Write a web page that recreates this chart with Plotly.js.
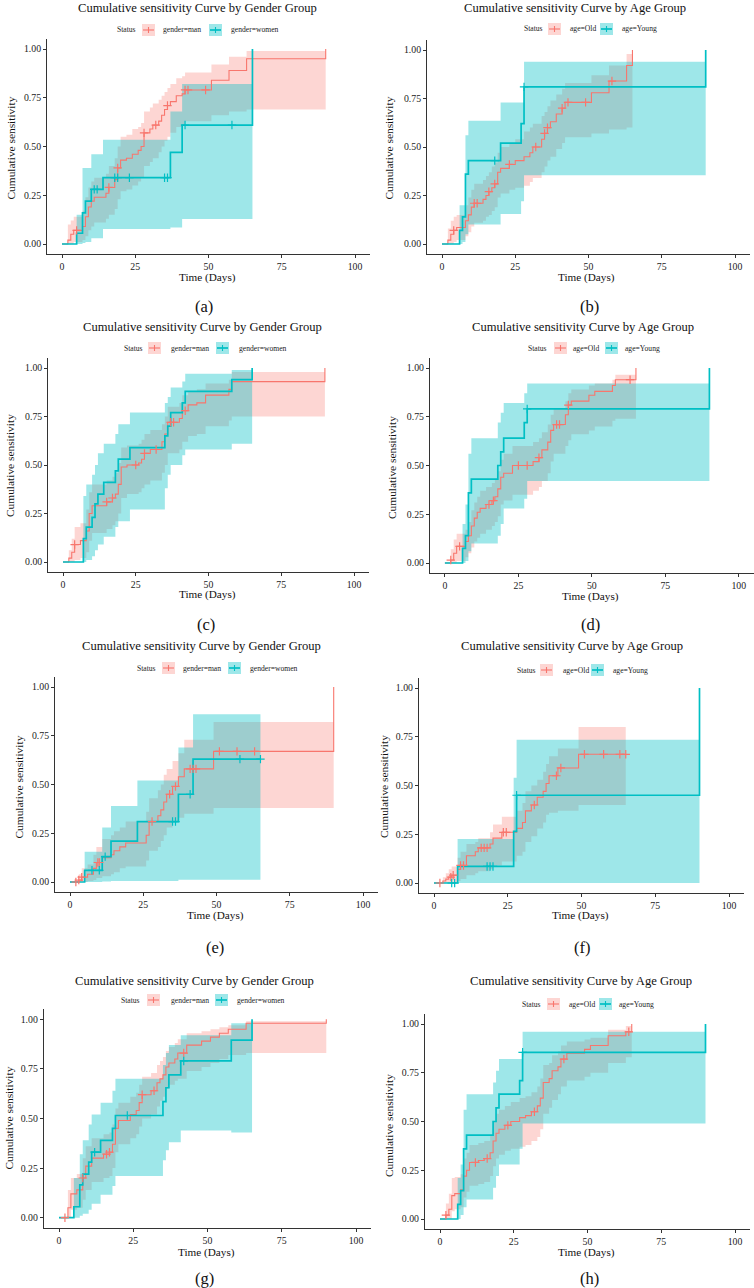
<!DOCTYPE html>
<html><head><meta charset="utf-8">
<script src="https://cdn.plot.ly/plotly-3.0.1.min.js"></script>
<style>html,body{margin:0;padding:0;background:#fff}#chart{width:754px;height:1288px}</style>
</head><body><div id="chart"></div>
<script>
// ---------------- DATA ----------------
// Panel (a) gender
const aManT  = [0,2,3,4,7,8,9,10,11,15,16,18,19,20,22,24,26,27,28,30,31,33,34,35,36,37,39,41,42,51,57,63,90];
const aManV  = [0,.02,.05,.07,.09,.14,.19,.22,.24,.26,.29,.33,.39,.43,.44,.46,.48,.50,.57,.59,.61,.63,.66,.69,.71,.73,.76,.77,.79,.84,.89,.95,1.0];
const aManHi = [0,.10,.12,.14,.17,.24,.29,.32,.34,.36,.40,.44,.50,.55,.56,.59,.60,.62,.68,.70,.72,.74,.76,.78,.80,.82,.85,.86,.88,.92,.96,.99,.99];
const aManLo = [0,0,0,.01,.02,.04,.07,.09,.11,.13,.15,.18,.23,.27,.28,.30,.32,.34,.40,.42,.44,.47,.50,.53,.55,.57,.60,.61,.63,.66,.68,.69,.69];
const aManCens = [5,16,19,28,32,36,42,43,49];
const aWomT  = [0,5,7,8,10,14,37,41,65];
const aWomV  = [0,.055,.16,.22,.28,.34,.47,.61,1.0];
const aWomHi = [0,.15,.39,.39,.46,.535,.68,.82,.82];
const aWomLo = [0,0,.005,.01,.03,.077,.085,.128,.128];
const aWomCens = [11,12,18,19,23,35,36,42,58];
// Panel (b) age
const bOldT  = [0,2,3,4,5,8,9,10,11,14,15,16,17,18,19,20,23,25,28,30,31,34,35,36,37,39,41,42,51,57,63,65];
const bOldV  = [0,.02,.05,.07,.085,.12,.15,.19,.21,.23,.25,.27,.29,.31,.37,.39,.41,.43,.45,.47,.50,.54,.57,.60,.63,.67,.70,.73,.78,.84,.92,1.0];
const bOldHi = [0,.08,.12,.14,.15,.20,.24,.28,.31,.33,.35,.37,.40,.42,.47,.50,.52,.54,.58,.60,.62,.66,.68,.71,.74,.77,.80,.83,.87,.92,.98,.98];
const bOldLo = [0,0,0,.01,.02,.04,.06,.09,.11,.12,.14,.15,.17,.19,.24,.26,.28,.29,.30,.32,.34,.37,.40,.43,.45,.49,.52,.55,.57,.59,.60,.60];
const bOldCens = [4,11,12,16,18,23,32,35,36,41,43,49,58];
const bYouT  = [0,6,7,8,9,20,27,28,90];
const bYouV  = [0,.07,.14,.36,.43,.52,.62,.81,1.0];
const bYouHi = [0,.20,.20,.56,.635,.73,.73,.94,.94];
const bYouLo = [0,0,.01,.05,.10,.155,.22,.355,.355];
const bYouCens = [18,28];
// Panel (c) gender
const cManT  = [0,2,3,4,6,8,9,10,15,17,18,19,20,22,26,27,28,30,34,35,36,40,41,43,46,49,57,58,90];
const cManV  = [0,.02,.05,.09,.11,.16,.25,.29,.31,.33,.35,.40,.49,.50,.51,.53,.56,.58,.62,.66,.72,.74,.78,.81,.82,.86,.89,.93,1.0];
const cManHi = [0,.06,.12,.18,.20,.27,.36,.40,.42,.44,.46,.51,.59,.60,.61,.63,.66,.68,.71,.75,.80,.82,.86,.88,.89,.92,.94,.98,.98];
const cManLo = [0,0,0,.01,.02,.05,.11,.15,.17,.19,.21,.25,.33,.35,.36,.38,.40,.42,.46,.50,.56,.58,.62,.65,.66,.70,.73,.75,.75];
const cManCens = [4,15,17,25,28,32,37,38,42];
const cWomT  = [0,7,8,10,11,12,14,18,19,23,35,36,37,41,42,58,65];
const cWomV  = [0,.12,.18,.23,.30,.35,.41,.47,.53,.59,.65,.70,.77,.82,.88,.94,1.0];
const cWomHi = [0,.34,.40,.45,.50,.56,.61,.66,.71,.77,.82,.85,.90,.93,.97,.99,.99];
const cWomLo = [0,0,.01,.03,.06,.09,.13,.18,.21,.27,.38,.45,.50,.55,.58,.61,.61];
const cWomCens = [];
// Panel (d) age
const dOldT  = [0,2,3,4,7,8,9,10,11,12,14,16,17,18,19,20,23,30,32,33,35,36,37,41,42,43,49,51,57,58,65];
const dOldV  = [0,.015,.05,.085,.11,.14,.19,.23,.26,.28,.30,.32,.34,.38,.44,.46,.50,.52,.54,.58,.62,.68,.71,.76,.81,.83,.86,.88,.91,.94,1.0];
const dOldHi = [0,.07,.12,.15,.17,.21,.27,.31,.34,.37,.39,.41,.43,.47,.53,.56,.60,.62,.64,.67,.71,.76,.79,.83,.87,.89,.91,.92,.94,.965,.965];
const dOldLo = [0,0,0,.01,.03,.05,.08,.11,.13,.15,.17,.19,.21,.24,.30,.32,.35,.37,.39,.42,.46,.52,.56,.60,.63,.66,.68,.70,.73,.74,.74];
const dOldCens = [2,5,15,16.5,25,28,32,38,39,42,63];
const dYouT  = [0,6,7,8,9,18,19,20,27,28,90];
const dYouV  = [0,.075,.14,.36,.43,.50,.57,.64,.72,.79,1.0];
const dYouHi = [0,.20,.30,.56,.64,.72,.77,.82,.87,.92,.92];
const dYouLo = [0,0,.01,.06,.10,.14,.20,.28,.33,.42,.42];
const dYouCens = [28];
// Panel (e) gender
const eManT  = [0,3,4,6,8,9,11,14,15,17,19,26,27,30,31,32,33,35,37,39,49,90];
const eManV  = [0,.01,.025,.04,.07,.10,.125,.14,.16,.18,.20,.24,.31,.34,.37,.41,.45,.49,.54,.58,.67,1.0];
const eManHi = [0,.04,.07,.09,.14,.18,.22,.24,.26,.28,.31,.36,.43,.47,.50,.55,.58,.62,.66,.73,.82,.82];
const eManLo = [0,0,0,.005,.01,.02,.03,.04,.05,.07,.08,.11,.16,.18,.21,.24,.28,.31,.33,.35,.38,.38];
const eManCens = [2,3,4,9.5,10,28,34,36,41,42,43,51,57,63];
const eWomT  = [0,5,11,14,23,37,42,65];
const eWomV  = [0,.06,.13,.21,.31,.45,.63,.63];
const eWomHi = [0,.155,.28,.39,.52,.69,.86,.86];
const eWomLo = [0,0,.003,.005,.005,.012,.012,.012];
const eWomCens = [7.5,10,12,35,36,41,58,65];
// Panel (f) age
const fOldT  = [0,3,4,5,6,8,9,11,14,15,19,20,23,28,30,31,33,35,37,38,39,42,49,65];
const fOldV  = [0,.01,.02,.03,.04,.07,.09,.14,.16,.18,.20,.23,.26,.28,.31,.37,.40,.44,.47,.51,.55,.59,.66,.66];
const fOldHi = [0,.03,.05,.07,.085,.13,.16,.20,.21,.23,.26,.30,.34,.37,.41,.47,.50,.53,.57,.61,.65,.69,.80,.80];
const fOldLo = [0,0,0,0,0,.01,.02,.04,.05,.06,.07,.09,.11,.14,.16,.21,.24,.28,.31,.35,.36,.37,.40,.40];
const fOldCens = [2,5.7,6.5,9,10,16,17,18,23.5,24.5,34,41.5,43,51,57.5,63,65];
const fYouT  = [0,8,27,28,90];
const fYouV  = [0,.085,.265,.45,1.0];
const fYouHi = [0,.225,.54,.735,.735];
const fYouLo = [0,0,0,0,0];
const fYouCens = [6,7,18,19,20,28];
// Panel (g) gender
const gManT  = [0,3,4,6,8,9,11,15,17,18,19,20,24,26,27,28,31,33,34,35,36,37,39,40,43,48,51,54,57,63,90];
const gManV  = [0,.05,.12,.14,.20,.26,.30,.32,.33,.37,.45,.49,.52,.54,.58,.62,.64,.68,.70,.72,.76,.78,.80,.83,.87,.89,.91,.93,.95,.98,1.0];
const gManHi = [0,.14,.20,.22,.30,.36,.40,.42,.43,.47,.55,.58,.61,.63,.67,.71,.73,.77,.79,.81,.84,.86,.88,.90,.93,.94,.95,.96,.97,.99,.99];
const gManLo = [0,0,.04,.05,.09,.14,.18,.20,.21,.25,.33,.37,.40,.42,.46,.50,.52,.56,.59,.61,.65,.67,.69,.70,.74,.76,.78,.80,.82,.83,.83];
const gManCens = [2,8,16,17,28,32,42];
const gWomT  = [0,5,7,8,10,11,14,18,19,35,36,37,41,58,65];
const gWomV  = [0,.055,.165,.22,.28,.33,.39,.45,.515,.585,.655,.72,.79,.895,1.0];
const gWomHi = [0,.20,.32,.39,.47,.52,.58,.64,.70,.77,.83,.87,.92,.98,.98];
const gWomLo = [0,0,.01,.02,.04,.07,.115,.16,.21,.29,.34,.38,.44,.43,.43];
const gWomCens = [12,23,42];
// Panel (h) age
const hOldT  = [0,2,3,4,5,7,8,9,10,13,15,17,18,19,20,22,24,27,29,31,33,34,35,37,38,40,41,43,49,51,57,63,65];
const hOldV  = [0,.02,.05,.12,.13,.15,.22,.25,.29,.30,.31,.34,.40,.44,.46,.48,.50,.52,.53,.55,.58,.62,.70,.72,.76,.78,.82,.85,.87,.89,.94,.96,1.0];
const hOldHi = [0,.08,.13,.21,.215,.23,.31,.34,.38,.39,.40,.43,.50,.54,.56,.58,.60,.62,.63,.65,.68,.72,.79,.80,.84,.86,.89,.91,.92,.93,.97,.99,.99];
const hOldLo = [0,0,0,.04,.05,.06,.11,.14,.17,.18,.19,.22,.27,.31,.33,.35,.36,.37,.38,.40,.42,.46,.54,.57,.61,.64,.68,.71,.73,.75,.80,.83,.83];
const hOldCens = [2,12,16,23,32,42,64];
const hYouT  = [0,6,7,8,9,18,19,20,27,28,90];
const hYouV  = [0,.075,.145,.36,.43,.50,.57,.64,.71,.855,1.0];
const hYouHi = [0,.21,.28,.56,.64,.70,.76,.82,.82,.96,.96];
const hYouLo = [0,0,.02,.06,.10,.16,.22,.28,.36,.49,.49];
const hYouCens = [28];

const xTicks = [0,25,50,75,100];
const yTicks = [0,0.25,0.5,0.75,1];
const yTickText = ['0.00','0.25','0.50','0.75','1.00'];
const genderLabels = ['gender=man','gender=women'];
const ageLabels = ['age=Old','age=Young'];
const genderTitle = 'Cumulative sensitivity Curve by Gender Group';
const ageTitle = 'Cumulative sensitivity Curve by Age Group';
const captions = ['(a)','(b)','(c)','(d)','(e)','(f)','(g)','(h)'];

// ---------------- LAYOUT / STYLE ----------------
const W = 754, H = 1288;
const FONT = '"Liberation Serif", "Times New Roman", serif';
const RED = '#F8766D', CYAN = '#00BFC4';
const RED_FILL = 'rgba(248,118,109,0.30)', CYAN_FILL = 'rgba(0,191,196,0.38)';
const AX = '#333333';

const S = (T,V,Hi,Lo,C) => ({T,V,Hi,Lo,C});
const panels = [
 {x:[47.35,369.65], y:[39.25,253.75], lab:genderLabels, title:genderTitle, tx:197, ty:8, leg:[115,142,161,209,229], ly:30, ytx:10.5, yty:148, xtx:207, xty:277, cx:204, cy:307,
  A:S(aManT,aManV,aManHi,aManLo,aManCens), B:S(aWomT,aWomV,aWomHi,aWomLo,aWomCens)},
 {x:[427.35,749.65], y:[40.3,253.7], lab:ageLabels, title:ageTitle, tx:575, ty:8, leg:[522,548,568,600,620], ly:29, ytx:388.5, yty:148, xtx:586.5, xty:277, cx:589, cy:307,
  A:S(bOldT,bOldV,bOldHi,bOldLo,bOldCens), B:S(bYouT,bYouV,bYouHi,bYouLo,bYouCens)},
 {x:[48.45,368.55], y:[358.3,571.7], lab:genderLabels, title:genderTitle, tx:202, ty:327, leg:[122,148,169,216,237], ly:348, ytx:10, yty:466, xtx:207.5, xty:595, cx:206, cy:624,
  A:S(cManT,cManV,cManHi,cManLo,cManCens), B:S(cWomT,cWomV,cWomHi,cWomLo,cWomCens)},
 {x:[430.2,753.5], y:[358.25,572.75], lab:ageLabels, title:ageTitle, tx:583, ty:327, leg:[526,554,571,605,623], ly:348, ytx:392, yty:468, xtx:590.5, xty:596.5, cx:590, cy:624,
  A:S(dOldT,dOldV,dOldHi,dOldLo,dOldCens), B:S(dYouT,dYouV,dYouHi,dYouLo,dYouCens)},
 {x:[55.35,377.65], y:[677.25,891.75], lab:genderLabels, title:genderTitle, tx:201, ty:646, leg:[135,162,181,228,248], ly:668, ytx:18, yty:787.5, xtx:215, xty:916, cx:215, cy:947,
  A:S(eManT,eManV,eManHi,eManLo,eManCens), B:S(eWomT,eWomV,eWomHi,eWomLo,eWomCens)},
 {x:[419.25,743.75], y:[678.25,892.75], lab:ageLabels, title:ageTitle, tx:572, ty:646, leg:[515,540,561,591,611], ly:670, ytx:384, yty:787, xtx:580, xty:916, cx:582, cy:947,
  A:S(fOldT,fOldV,fOldHi,fOldLo,fOldCens), B:S(fYouT,fYouV,fYouHi,fYouLo,fYouCens)},
 {x:[44.15,370.85], y:[1009.4,1227.6], lab:genderLabels, title:genderTitle, tx:194, ty:981, leg:[119,147,169,215,235], ly:1000, ytx:8, yty:1118.5, xtx:206, xty:1252, cx:205, cy:1278,
  A:S(gManT,gManV,gManHi,gManLo,gManCens), B:S(gWomT,gWomV,gWomHi,gWomLo,gWomCens)},
 {x:[425.25,749.75], y:[1014.25,1228.75], lab:ageLabels, title:ageTitle, tx:581, ty:981, leg:[520,547,567,599,617], ly:1004, ytx:389, yty:1125, xtx:586.5, xty:1252, cx:589, cy:1278,
  A:S(hOldT,hOldV,hOldHi,hOldLo,hOldCens), B:S(hYouT,hYouV,hYouHi,hYouLo,hYouCens)}
];

const px = v => v / W;
const py = v => 1 - v / H;
function stepAt(T, V, t) { let r = V[0]; for (let i = 0; i < T.length; i++) { if (T[i] <= t) r = V[i]; } return r; }

const data = [];
const layout = {
  width: W, height: H, margin: {l:0, r:0, t:0, b:0},
  paper_bgcolor: '#fff', plot_bgcolor: 'rgba(0,0,0,0)',
  showlegend: false, font: {family: FONT, color: '#222'},
  annotations: [], shapes: []
};

panels.forEach((p, i) => {
  const n = i + 1;
  const xa = 'x' + (n === 1 ? '' : n), ya = 'y' + (n === 1 ? '' : n);
  const xk = 'xaxis' + (n === 1 ? '' : n), yk = 'yaxis' + (n === 1 ? '' : n);
  layout[xk] = {
    domain: [px(p.x[0]), px(p.x[1])], range: [-5, 105], anchor: ya,
    tickvals: xTicks, ticktext: xTicks.map(String), ticks: 'outside', ticklen: 3, tickwidth: 1, tickcolor: AX,
    showline: true, linecolor: AX, linewidth: 1.3, showgrid: false, zeroline: false,
    tickfont: {family: FONT, size: 9.8, color: '#222'}, fixedrange: true
  };
  layout[yk] = {
    domain: [py(p.y[1]), py(p.y[0])], range: [-0.05, 1.05], anchor: xa,
    tickvals: yTicks, ticktext: yTickText, ticks: 'outside', ticklen: 3, tickwidth: 1, tickcolor: AX,
    showline: true, linecolor: AX, linewidth: 1.3, showgrid: false, zeroline: false,
    tickfont: {family: FONT, size: 9.8, color: '#222'}, fixedrange: true
  };
  const series = [[p.A, RED, RED_FILL, 1.1], [p.B, CYAN, CYAN_FILL, 1.7]];
  // confidence bands
  series.forEach(([s, col, fill]) => {
    data.push({x: s.T, y: s.Hi, xaxis: xa, yaxis: ya, mode: 'lines', line: {width: 0, shape: 'hv'}, hoverinfo: 'skip', showlegend: false});
    data.push({x: s.T, y: s.Lo, xaxis: xa, yaxis: ya, mode: 'lines', line: {width: 0, shape: 'hv'}, fill: 'tonexty', fillcolor: fill, hoverinfo: 'skip', showlegend: false});
  });
  // step lines
  series.forEach(([s, col, fill, w]) => {
    data.push({x: s.T, y: s.V, xaxis: xa, yaxis: ya, mode: 'lines', line: {color: col, width: w, shape: 'hv'}, showlegend: false});
  });
  // censor marks
  series.forEach(([s, col]) => {
    if (!s.C.length) return;
    data.push({x: s.C, y: s.C.map(t => stepAt(s.T, s.V, t)), xaxis: xa, yaxis: ya, mode: 'markers',
      marker: {symbol: 'cross-thin-open', size: 6, color: col, line: {color: col, width: 1.2}}, showlegend: false});
  });

  // texts
  const A = layout.annotations;
  A.push({text: p.title, x: px(p.tx), y: py(p.ty), xref: 'paper', yref: 'paper', xanchor: 'center', yanchor: 'middle', showarrow: false, font: {family: FONT, size: 12.6, color: '#111'}});
  A.push({text: 'Cumulative sensitivity', x: px(p.ytx), y: py(p.yty), xref: 'paper', yref: 'paper', xanchor: 'center', yanchor: 'middle', textangle: -90, showarrow: false, font: {family: FONT, size: 11.4, color: '#111'}});
  A.push({text: 'Time (Days)', x: px(p.xtx), y: py(p.xty), xref: 'paper', yref: 'paper', xanchor: 'center', yanchor: 'middle', showarrow: false, font: {family: FONT, size: 11.2, color: '#111'}});
  A.push({text: captions[i], x: px(p.cx), y: py(p.cy), xref: 'paper', yref: 'paper', xanchor: 'center', yanchor: 'middle', showarrow: false, font: {family: FONT, size: 16.5, color: '#111'}});
  // legend
  const L = p.leg;
  const lf = {family: FONT, size: 7.6, color: '#222'};
  A.push({text: 'Status', x: px(L[0]), y: py(p.ly), xref: 'paper', yref: 'paper', xanchor: 'left', yanchor: 'middle', showarrow: false, font: lf});
  A.push({text: p.lab[0], x: px(L[2]), y: py(p.ly), xref: 'paper', yref: 'paper', xanchor: 'left', yanchor: 'middle', showarrow: false, font: lf});
  A.push({text: p.lab[1], x: px(L[4]), y: py(p.ly), xref: 'paper', yref: 'paper', xanchor: 'left', yanchor: 'middle', showarrow: false, font: lf});
  [[L[1], RED, RED_FILL, 1.1], [L[3], CYAN, CYAN_FILL, 1.7]].forEach(([kx, col, fill, w]) => {
    const Sh = layout.shapes;
    Sh.push({type: 'rect', xref: 'paper', yref: 'paper', x0: px(kx), x1: px(kx + 13), y0: py(p.ly + 6), y1: py(p.ly - 6), fillcolor: fill, line: {width: 0}});
    Sh.push({type: 'line', xref: 'paper', yref: 'paper', x0: px(kx + 1), x1: px(kx + 12), y0: py(p.ly), y1: py(p.ly), line: {color: col, width: w}});
    Sh.push({type: 'line', xref: 'paper', yref: 'paper', x0: px(kx + 6.5), x1: px(kx + 6.5), y0: py(p.ly - 3), y1: py(p.ly + 3), line: {color: col, width: 1.1}});
  });
});

Plotly.newPlot('chart', data, layout, {displayModeBar: false, staticPlot: true});
</script></body></html>
